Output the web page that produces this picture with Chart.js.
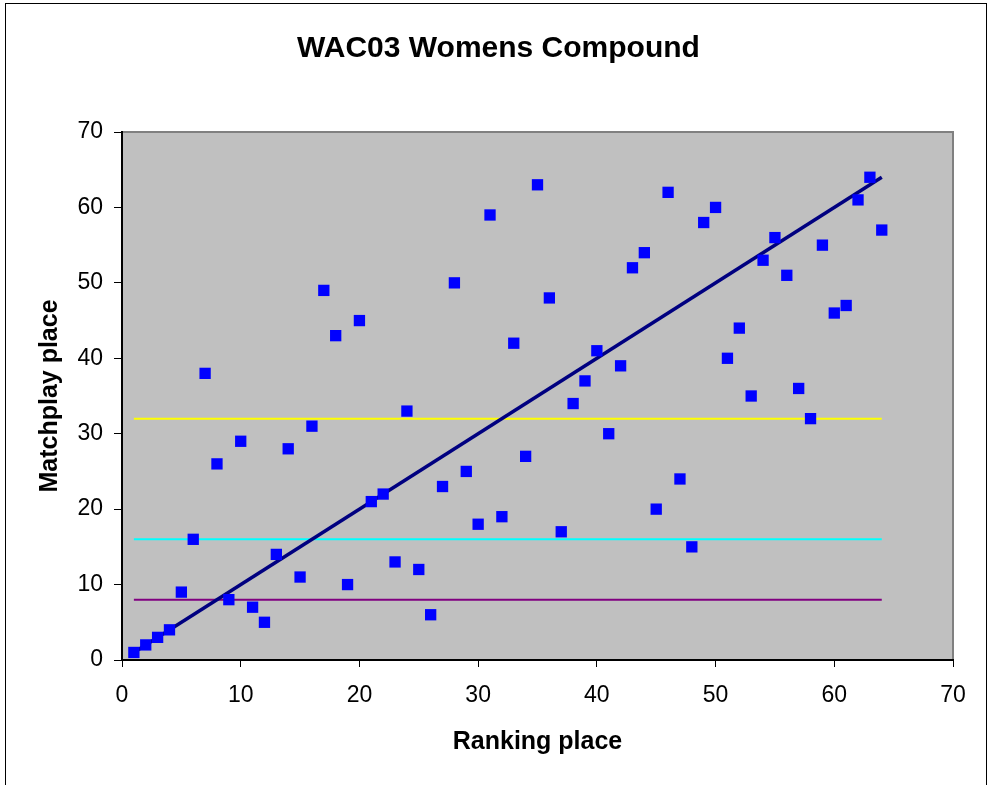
<!DOCTYPE html>
<html>
<head>
<meta charset="utf-8">
<script src="https://cdn.jsdelivr.net/npm/chart.js@4"></script>
<style>
  html, body { margin: 0; padding: 0; background: #fff; }
  #wrap { position: relative; width: 989px; height: 785px; }
</style>
</head>
<body>
<div id="wrap"><canvas id="chart1" width="989" height="785"></canvas></div>
<script>
// ranking place (x) vs matchplay place (y)
var ranking = [1,2,3,4,5,6,7,8,9,10,11,12,13,14,15,16,17,18,19,20,21,22,23,24,25,26,27,28,29,30,31,32,
               33,34,35,36,37,38,39,40,41,42,43,44,45,46,47,48,49,50,51,52,53,54,55,56,57,58,59,60,61,62,63,64];
var matchplay = [1,2,3,4,9,16,38,26,8,29,7,5,14,28,11,31,49,43,10,45,21,22,13,33,12,6,23,50,25,18,59,19,
                 42,27,63,48,17,34,37,41,30,39,52,54,20,62,24,15,58,60,40,44,35,53,56,51,36,32,55,46,47,61,64,57];
// reference lines
var lineX = [1, 64];
var diagY = [1, 64];
var level32 = [32, 32];
var level16 = [16, 16];
var level8 = [8, 8];
var axisTicks = [0,10,20,30,40,50,60,70];

function pts(xs, ys) {
  return xs.map(function (x, i) { return {x: x, y: ys[i]}; });
}

function lineSet(ys, color, width) {
  return {
    data: pts(lineX, ys),
    showLine: true,
    borderColor: color,
    borderWidth: width,
    pointRadius: 0,
    fill: false
  };
}

Chart.defaults.font.family = "'Liberation Sans', Arial, sans-serif";
Chart.defaults.color = "#000";

var plotBack = {
  id: 'plotBack',
  beforeDraw: function (chart) {
    var a = chart.chartArea, ctx = chart.ctx;
    ctx.save();
    ctx.fillStyle = '#c0c0c0';
    ctx.fillRect(a.left, a.top, a.right - a.left, a.bottom - a.top);
    ctx.strokeStyle = '#808080';
    ctx.lineWidth = 2;
    ctx.beginPath();
    ctx.moveTo(a.left, a.top);
    ctx.lineTo(a.right, a.top);
    ctx.lineTo(a.right, a.bottom);
    ctx.stroke();
    // outer frame of the chart
    ctx.strokeStyle = '#000';
    ctx.lineWidth = 1;
    ctx.strokeRect(5.5, 3.5, 981, 900);
    ctx.restore();
  }
};

new Chart(document.getElementById('chart1'), {
  type: 'scatter',
  data: {
    datasets: [
      {
        data: pts(ranking, matchplay),
        pointStyle: 'rect',
        pointRadius: 8,
        pointHoverRadius: 8,
        backgroundColor: '#0000ff',
        borderColor: '#0000ff',
        borderWidth: 0
      },
      lineSet(diagY, '#000080', 3.5),
      lineSet(level32, '#ffff00', 2),
      lineSet(level16, '#00ffff', 2),
      lineSet(level8, '#800080', 2)
    ]
  },
  options: {
    responsive: false,
    animation: false,
    layout: { padding: { left: 8, right: 0, top: 0, bottom: 0 } },
    plugins: {
      legend: { display: false },
      tooltip: { enabled: false },
      title: {
        display: true,
        text: 'WAC03 Womens Compound',
        font: { size: 30, weight: 'bold' },
        padding: { top: 31, bottom: 65 }
      }
    },
    scales: {
      x: {
        type: 'linear',
        min: 0, max: 70,
        afterFit: function (s) { s.height = 125; },
        afterBuildTicks: function (s) { s.ticks = axisTicks.map(function (v) { return {value: v}; }); },
        ticks: { font: { size: 23 }, padding: 15, maxRotation: 0 },
        grid: { drawOnChartArea: false, drawTicks: true, tickLength: 7, color: '#000', lineWidth: 1 },
        border: { display: true, color: '#000', width: 2 },
        title: { display: true, text: 'Ranking place', font: { size: 25, weight: 'bold' }, padding: { top: 0, bottom: 28 } }
      },
      y: {
        type: 'linear',
        min: 0, max: 70,
        afterFit: function (s) { s.width = 114; },
        afterBuildTicks: function (s) { s.ticks = axisTicks.map(function (v) { return {value: v}; }); },
        ticks: { font: { size: 23 }, padding: 11 },
        grid: { drawOnChartArea: false, drawTicks: true, tickLength: 8, color: '#000', lineWidth: 1 },
        border: { display: true, color: '#000', width: 2 },
        title: { display: true, text: 'Matchplay place', font: { size: 25, weight: 'bold' }, padding: { top: 27, bottom: 0 } }
      },
      // empty right-hand spacer so the plot stops at x = 953
      yRight: {
        position: 'right',
        display: true,
        afterFit: function (s) { s.width = 36; },
        ticks: { display: false },
        grid: { display: false },
        border: { display: false }
      }
    }
  },
  plugins: [plotBack]
});
</script>
</body>
</html>
